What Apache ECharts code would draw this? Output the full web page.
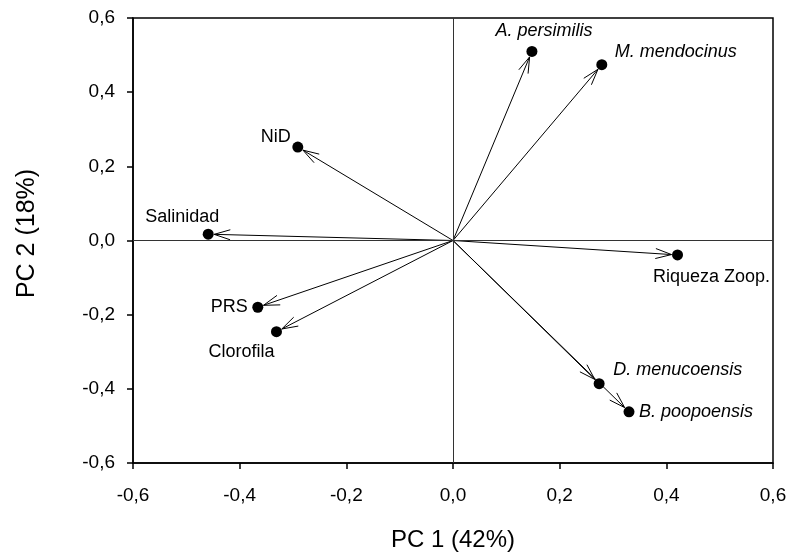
<!DOCTYPE html>
<html>
<head>
<meta charset="utf-8">
<script src="https://cdn.jsdelivr.net/npm/echarts@6/dist/echarts.min.js"></script>
<style>
html,body{margin:0;padding:0;background:#fff;}
#chart{width:789px;height:556px;}
</style>
</head>
<body>
<div id="chart"></div>
<script>
// ---- data ----
const names = ['A. persimilis','M. mendocinus','Riqueza Zoop.','NiD','Salinidad','PRS','Clorofila','D. menucoensis','B. poopoensis'];
const pc1 = [0.148, 0.279, 0.421, -0.291, -0.459, -0.366, -0.331, 0.274, 0.330];
const pc2 = [0.510, 0.474, -0.039, 0.252, 0.017, -0.180, -0.246, -0.386, -0.462];
const speciesNames = ['A. persimilis','M. mendocinus','D. menucoensis','B. poopoensis'];
const xTicks = [-0.6, -0.4, -0.2, 0.0, 0.2, 0.4, 0.6];
const yTicks = [-0.6, -0.4, -0.2, 0.0, 0.2, 0.4, 0.6];
const xTitle = 'PC 1 (42%)';
const yTitle = 'PC 2 (18%)';

// ---- label placement (style) ----
const labelLayout = {
  'A. persimilis':  {align:'center', offset:[12,-20]},
  'M. mendocinus':  {align:'left',   offset:[13,-13]},
  'Riqueza Zoop.':  {align:'center', offset:[34,22]},
  'NiD':            {align:'right',  offset:[-7,-10]},
  'Salinidad':      {align:'center', offset:[-26,-17]},
  'PRS':            {align:'right',  offset:[-10,0]},
  'Clorofila':      {align:'center', offset:[-35,20]},
  'D. menucoensis': {align:'left',   offset:[14,-14]},
  'B. poopoensis':  {align:'left',   offset:[10,0]}
};

const FONT = '"Liberation Sans", Arial, sans-serif';
const fmt = v => (Math.abs(v) < 1e-9 ? 0 : v).toFixed(1).replace('.', ',');

const pts = names.map((n, i) => [pc1[i], pc2[i]]);

const scatterData = names.map((n, i) => {
  const L = labelLayout[n];
  return {
    name: n,
    value: [pc1[i], pc2[i]],
    label: {
      show: true,
      position: 'inside',
      formatter: n,
      align: L.align,
      verticalAlign: 'middle',
      offset: L.offset,
      fontStyle: speciesNames.indexOf(n) >= 0 ? 'italic' : 'normal',
      fontFamily: FONT,
      fontSize: 18,
      color: '#000',
      textBorderWidth: 0
    }
  };
});

const chart = echarts.init(document.getElementById('chart'), null, {renderer: 'canvas'});

chart.setOption({
  animation: false,
  backgroundColor: '#fff',
  grid: {left: 133, right: 16, top: 18, bottom: 93, outerBoundsMode: 'none', containLabel: false,
         show: true, borderColor: '#000', borderWidth: 1.5, backgroundColor: 'transparent'},
  xAxis: {
    type: 'value', min: xTicks[0], max: xTicks[xTicks.length - 1], interval: 0.2,
    name: xTitle, nameLocation: 'middle', nameGap: 65,
    nameTextStyle: {fontFamily: FONT, fontSize: 24, color: '#000'},
    axisLine: {onZero: false, lineStyle: {color: '#000', width: 1.5}},
    axisTick: {show: true, inside: false, length: 6, lineStyle: {color: '#000', width: 1.5}},
    axisLabel: {formatter: fmt, margin: 23, fontFamily: FONT, fontSize: 19, color: '#000'},
    splitLine: {show: false}
  },
  yAxis: {
    type: 'value', min: yTicks[0], max: yTicks[yTicks.length - 1], interval: 0.2,
    name: yTitle, nameLocation: 'middle', nameGap: 93,
    nameTextStyle: {fontFamily: FONT, fontSize: 25, color: '#000', padding: [0, 0, 0, 14]},
    axisLine: {onZero: false, lineStyle: {color: '#000', width: 1.5}},
    axisTick: {show: true, inside: false, length: 6, lineStyle: {color: '#000', width: 1.5}},
    axisLabel: {formatter: fmt, margin: 18, fontFamily: FONT, fontSize: 19, color: '#000'},
    splitLine: {show: false}
  },
  series: [
    {
      type: 'custom',
      coordinateSystem: 'cartesian2d',
      data: pts,
      silent: true,
      z: 2,
      renderItem: function (params, api) {
        const o = api.coord([0, 0]);
        const p = api.coord([api.value(0), api.value(1)]);
        const dx = p[0] - o[0], dy = p[1] - o[1];
        const len = Math.sqrt(dx * dx + dy * dy);
        const ux = dx / len, uy = dy / len;
        const r = 6;
        const tip = [p[0] - ux * r, p[1] - uy * r];
        const hl = 16, hw = 5;
        const bx = tip[0] - ux * hl, by = tip[1] - uy * hl;
        const nx = -uy, ny = ux;
        const style = {stroke: '#000', lineWidth: 1, fill: null};
        return {
          type: 'group',
          children: [
            {type: 'line', shape: {x1: o[0], y1: o[1], x2: tip[0], y2: tip[1]}, style: style},
            {type: 'polyline', shape: {points: [[bx + nx * hw, by + ny * hw], tip, [bx - nx * hw, by - ny * hw]]}, style: style}
          ]
        };
      }
    },
    {
      type: 'scatter',
      data: scatterData,
      symbol: 'circle',
      symbolSize: 11,
      itemStyle: {color: '#000', opacity: 1},
      z: 3,
      markLine: {
        silent: true,
        symbol: 'none',
        label: {show: false},
        lineStyle: {color: '#333', width: 1, type: 'solid'},
        data: [{xAxis: 0}, {yAxis: 0}]
      }
    }
  ]
});
</script>
</body>
</html>
